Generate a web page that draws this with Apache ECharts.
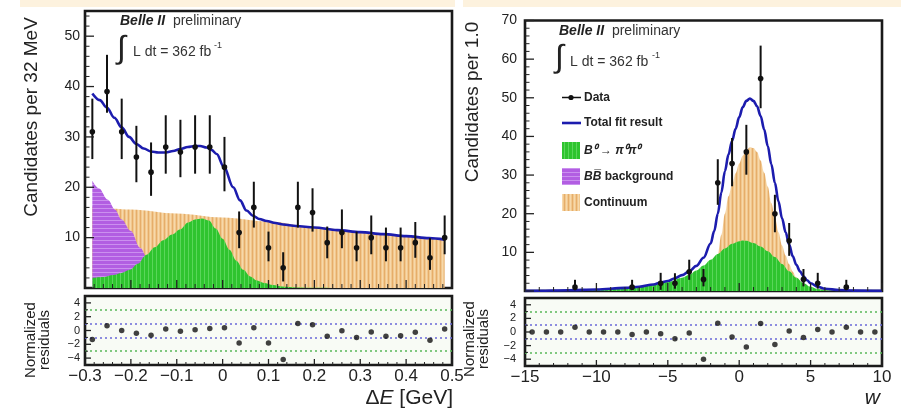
<!DOCTYPE html>
<html><head><meta charset="utf-8">
<script src="https://cdn.jsdelivr.net/npm/echarts@6/dist/echarts.min.js"></script>
<style>html,body{margin:0;padding:0;background:#fff}#c{width:901px;height:409px}</style>
</head><body><div id="c"></div>
<script>
// ---------------- DATA: left panel (Delta E) ----------------
const leftBins = [-0.284,-0.252,-0.220,-0.188,-0.156,-0.124,-0.092,-0.060,-0.028,0.004,0.036,0.068,0.100,0.132,0.164,0.196,0.228,0.260,0.292,0.324,0.356,0.388,0.420,0.452,0.484];
const leftCounts = [31,39,31,26,23,28,27,28,28,24,11,16,8,4,16,15,9,11,8,10,8,8,9,6,10];
const leftErrLow = [25.6,34.8,25.6,21,18.3,22.7,22,22.7,22.7,19.2,7.9,12,5.3,1.3,12,11.2,5.9,7.9,5.3,6.7,5.3,5.3,6,3.6,6.7];
const leftErrHigh = [37.6,46.3,37.6,32.2,28.9,34.3,33.4,34.3,34.3,30,15.2,21.1,11.2,7.1,21.1,19.8,12.2,15.6,11.2,14.4,12,12,13.1,9.9,14.4];
const leftPulls = [-1.3,0.7,0,-0.4,-0.7,0.2,-0.1,0.1,0.3,0.4,-1.8,0.4,-1.8,-4.2,1.0,0.85,-0.85,-0.05,-1.0,-0.2,-0.85,-0.75,-0.25,-1.4,0.2];

const leftFitX = [-0.284,-0.268,-0.252,-0.236,-0.22,-0.204,-0.188,-0.172,-0.156,-0.14,-0.124,-0.108,-0.092,-0.076,-0.06,-0.049,-0.035,-0.024,-0.013,0.003,0.023,0.038,0.052,0.067,0.08,0.096,0.115,0.132,0.16,0.2,0.25,0.3,0.35,0.4,0.45,0.484];
const leftFitY = [38.6,37.3,35.8,33.8,31.9,30.0,28.6,27.7,27.1,26.9,26.9,27.2,27.6,28.0,28.2,28.2,27.9,27.4,26.6,24.0,20.0,17.4,15.4,14.3,13.7,13.3,12.9,12.6,12.3,12.0,11.5,11.1,10.7,10.3,9.9,9.6];
const leftContX = [-0.284,-0.2,-0.1,0,0.1,0.2,0.3,0.4,0.484];
const leftContY = [16.2,15.6,14.8,14.0,13.2,12.1,11.1,10.3,9.6];
const leftBBX = [-0.284,-0.27,-0.25,-0.235,-0.22,-0.2,-0.18,-0.16,-0.14,-0.12,-0.1,-0.08,-0.05,0];
const leftBBY = [21.3,19.8,17.5,15.6,13.6,11.3,8.0,5.2,2.9,1.4,0.6,0.2,0.05,0];
const leftSigX = [-0.284,-0.26,-0.238,-0.22,-0.202,-0.185,-0.166,-0.148,-0.129,-0.11,-0.093,-0.075,-0.06,-0.045,-0.03,-0.015,0,0.015,0.03,0.045,0.06,0.075,0.09,0.11,0.13,0.16,0.2,0.25,0.484];
const leftSigY = [2.0,2.2,2.6,3.0,3.6,4.8,6.6,8.1,9.5,10.6,11.6,13.0,13.6,13.8,13.4,11.8,9.8,7.6,5.4,3.6,2.3,1.5,1.0,0.6,0.3,0.1,0.03,0,0];

// ---------------- DATA: right panel (w) ----------------
const rightBins = [-14.5,-13.5,-12.5,-11.5,-10.5,-9.5,-8.5,-7.5,-6.5,-5.5,-4.5,-3.5,-2.5,-1.5,-0.5,0.5,1.5,2.5,3.5,4.5,5.5,6.5,7.5,8.5,9.5];
const rightPulls = [0,0,0,0.7,0,0,0,-0.35,0,-0.25,-1.0,-0.15,-4.0,1.3,-0.75,-2.2,1.25,-1.85,0.15,-0.8,0.35,0,0.7,0,0];
const rightDataX = [-11.5,-7.5,-5.5,-4.5,-3.5,-2.5,-1.5,-0.5,0.5,1.5,2.5,3.5,4.5,5.5,7.5];
const rightCounts = [1,1,2,2,5,3,28,33,36,55,20,13,3,2,1];
const rightErrLow = [0.2,0.2,0.3,0.6,2.9,1.2,22.3,27.1,30.1,47.3,15.2,9.1,1.2,0.6,0.2];
const rightErrHigh = [2.9,2.9,4.7,4.6,8.1,5.7,34.1,39.6,43,63.5,24.9,17.6,5.7,4.7,2.9];

const rightFitX = [-15,-14,-12,-10,-8,-7,-6,-5.5,-5,-4.5,-4,-3.5,-3,-2.5,-2,-1.75,-1.5,-1.25,-1,-0.75,-0.5,-0.25,0,0.25,0.5,0.75,1,1.25,1.5,1.75,2,2.25,2.5,2.75,3,3.25,3.5,3.75,4,4.25,4.5,4.75,5,5.5,6,7,8,10];
const rightFitY = [0.02,0.08,0.2,0.4,0.8,1.1,1.7,2.2,2.6,3.3,4.1,5.1,6.5,8.6,12.3,15.5,20,25.5,31,35.3,38.8,42,45,47.6,49.2,49.8,49.2,47.8,45.3,41.8,37.5,32.8,28,23.2,18.8,15.2,12,9,6.8,5.1,3.8,2.8,2.0,1.1,0.6,0.25,0.1,0.03];
const rightSigX = [-15,-14,-12,-10,-8,-7,-6,-5,-4,-3.5,-3,-2.5,-2,-1.5,-1,-0.5,0,0.25,0.5,1,1.5,2,2.5,3,3.5,4,4.5,5,5.5,6,7,8,10];
const rightSigY = [0.02,0.05,0.15,0.35,0.75,1.05,1.55,2.3,3.4,4.2,5.3,6.6,8.1,9.6,11.0,12.2,12.9,13.1,13.0,12.4,11.5,10.3,8.8,7.0,5.1,3.4,2.0,1.1,0.5,0.2,0.03,0,0];
const rightContX = [-15,-4,-3.5,-3,-2.5,-2,-1.75,-1.5,-1.25,-1,-0.75,-0.5,-0.25,0,0.25,0.5,0.75,1,1.25,1.5,1.75,2,2.25,2.5,2.75,3,3.25,3.5,3.75,4,4.5,5,5.5,6,7,8,10];
const rightContY = [0,0,0.1,0.4,1.0,3.0,5.5,9.5,14.5,20,24.5,27.5,30.5,33,35,36.4,37.2,37.0,36.0,33.8,30.6,27,22.8,19,15.2,11.8,9.2,6.9,5.0,3.5,1.8,0.8,0.5,0.3,0.1,0,0];

// tick values (labels)
const leftTicksX = [-0.3,-0.2,-0.1,0,0.1,0.2,0.3,0.4,0.5];
const rightTicksX = [-15,-10,-5,0,5,10];
const leftTicksY = [0,10,20,30,40,50];
const rightTicksY = [0,10,20,30,40,50,60,70];
const pullTicksY = [-4,-2,0,2,4];

// ---------------- helpers ----------------
const FONT = "'Liberation Sans', Arial, Helvetica, sans-serif";
function pattern(w, h, draw) {
  const c = document.createElement('canvas'); c.width = w; c.height = h;
  draw(c.getContext('2d'), w, h); return { image: c, repeat: 'repeat' };
}
const orangePat = pattern(4, 4, (g, w, h) => { g.fillStyle = '#f1c88e'; g.fillRect(0,0,w,h); g.fillStyle = '#e6ad6a'; g.fillRect(0,0,1,h); g.fillStyle = '#f7d8ab'; g.fillRect(2,0,1,h); });
const greenPat = pattern(4, 4, (g, w, h) => { g.fillStyle = '#2fc42f'; g.fillRect(0,0,w,h); g.fillStyle = '#5ad65a'; g.fillRect(0,0,1,h); });
const purplePat = pattern(4, 4, (g, w, h) => { g.fillStyle = '#b25ee2'; g.fillRect(0,0,w,h); g.fillStyle = '#cb90ef'; g.fillRect(0,0,w,1); });
const pairs = (xs, ys) => xs.map((x, i) => [x, ys[i]]);
const minus = s => String(s).replace('-', '\u2212');

function errRender(params, api) {
  const x = api.value(0), y = api.value(1), lo = api.value(2), hi = api.value(3);
  const p = api.coord([x, y]), pl = api.coord([x, lo]), ph = api.coord([x, hi]);
  return { type: 'group', children: [
    { type: 'line', shape: { x1: pl[0], y1: pl[1], x2: ph[0], y2: ph[1] }, style: { stroke: '#111', lineWidth: 2 } },
    { type: 'circle', shape: { cx: p[0], cy: p[1], r: 2.8 }, style: { fill: '#111' } }
  ]};
}
function area(name, xs, ys, fill, xi, yi, z) {
  return { name, type: 'line', xAxisIndex: xi, yAxisIndex: yi, data: pairs(xs, ys), smooth: 0.35, smoothMonotone: 'x',
    symbol: 'none', lineStyle: { width: 0 }, areaStyle: { color: fill, opacity: 1 }, z, silent: true };
}
function fitLine(xs, ys, xi, yi) {
  return { name: 'Total fit result', type: 'line', xAxisIndex: xi, yAxisIndex: yi, data: pairs(xs, ys), smooth: 0.35, smoothMonotone: 'x',
    symbol: 'none', lineStyle: { width: 2.6, color: '#1c1cae' }, z: 6, silent: true };
}
function dataSeries(xs, ys, lo, hi, xi, yi) {
  return { name: 'Data', type: 'custom', xAxisIndex: xi, yAxisIndex: yi, renderItem: errRender,
    encode: { x: 0, y: [1, 2, 3] }, data: xs.map((x, i) => [x, ys[i], lo[i], hi[i]]), z: 8, silent: true };
}
function pullSeries(xs, ps, xi, yi) {
  return { name: 'Pulls', type: 'scatter', xAxisIndex: xi, yAxisIndex: yi, data: pairs(xs, ps), symbolSize: 5.5,
    itemStyle: { color: '#111' }, z: 8, silent: true,
    markLine: { symbol: 'none', silent: true, label: { show: false }, animation: false,
      data: [
        { yAxis: 3, lineStyle: { color: '#58b858', type: [2, 3], width: 1.5 } },
        { yAxis: -3, lineStyle: { color: '#58b858', type: [2, 3], width: 1.5 } },
        { yAxis: 1, lineStyle: { color: '#6a6ad8', type: [2, 3], width: 1.5 } },
        { yAxis: -1, lineStyle: { color: '#6a6ad8', type: [2, 3], width: 1.5 } }
      ] } };
}
// axis tick marks drawn inside the frame through the axes' own scales
function subdivide(majors, n, lo, hi) {
  const step = (majors[1] - majors[0]) / n, out = [];
  for (let v = majors[0] - (n - 1) * step; v <= hi + 1e-9; v += step) {
    if (v >= lo - 1e-9 && !majors.some(m => Math.abs(m - v) < step / 10)) out.push(+v.toFixed(6));
  }
  return out;
}
function tickSeries(xi, yi, xMin, yMin, xMaj, xMinor, yMaj, yMinor, lenX, lenY) {
  const data = [];
  xMaj.forEach(v => data.push([v, 1, 0])); xMinor.forEach(v => data.push([v, 0, 0]));
  yMaj.forEach(v => data.push([v, 1, 1])); yMinor.forEach(v => data.push([v, 0, 1]));
  return { name: 'ticks', type: 'custom', xAxisIndex: xi, yAxisIndex: yi, z: 9, silent: true, clip: false,
    encode: { x: -1, y: -1 }, data,
    renderItem: (params, api) => {
      const v = api.value(0), major = api.value(1), dir = api.value(2);
      if (dir === 0) {
        const p = api.coord([v, yMin]); const L = major ? lenX : lenX / 2;
        return { type: 'line', shape: { x1: p[0], y1: p[1], x2: p[0], y2: p[1] - L }, style: { stroke: '#222', lineWidth: major ? 1.3 : 1 } };
      }
      const p = api.coord([xMin, v]); const L = major ? lenY : lenY / 2;
      return { type: 'line', shape: { x1: p[0], y1: p[1], x2: p[0] + L, y2: p[1] }, style: { stroke: '#222', lineWidth: major ? 1.3 : 1 } };
    } };
}
function xAx(gi, min, max, interval, showLabels, fmt) {
  return { type: 'value', gridIndex: gi, min, max, interval,
    axisLine: { show: false, onZero: false }, splitLine: { show: false }, axisTick: { show: false }, minorTick: { show: false },
    axisLabel: { show: showLabels, formatter: fmt, fontSize: 17, fontFamily: FONT, color: '#222', margin: 3, showMinLabel: true, showMaxLabel: true } };
}
function yAx(gi, min, max, interval, fmt, fontSize, margin) {
  return { type: 'value', gridIndex: gi, min, max, interval,
    axisLine: { show: false, onZero: false }, splitLine: { show: false }, axisTick: { show: false }, minorTick: { show: false },
    axisLabel: { formatter: fmt, fontSize, fontFamily: FONT, color: '#222', margin } };
}
const fmtDE = v => { const r = Math.round(v * 10) / 10; return leftTicksX.some(t => Math.abs(t - r) < 1e-9) ? minus(+r.toFixed(1)) : ''; };
const fmtW = v => rightTicksX.includes(Math.round(v)) ? minus(Math.round(v)) : '';
const fmtPull = v => { const r = Math.round(v); return pullTicksY.includes(r) ? minus(r) : ''; };
const fmtMain = maxLab => v => { const r = Math.round(v); return (r >= 10 && r <= maxLab) ? String(r) : ''; };

const grids = [
  { left: 85, top: 11, width: 367, height: 277 },
  { left: 85, top: 296, width: 367, height: 69 },
  { left: 525, top: 20.5, width: 357, height: 270.5 },
  { left: 525, top: 298, width: 357, height: 68 }
].map((g, i) => Object.assign({ show: true, backgroundColor: (i % 2) ? '#f8fbf5' : '#ffffff',
  borderWidth: 2.6, borderColor: '#1a1a1a', containLabel: false, outerBoundsMode: 'none' }, g));

function txt(x, y, text, font, extra) {
  return Object.assign({ type: 'text', x, y, z: 60, silent: true,
    style: Object.assign({ text, font, fill: '#222', align: 'left', verticalAlign: 'middle' }, extra || {}) });
}
const bold = `bold 12px ${FONT}`;
function legendRow(y, label, kind, rich) {
  const els = [];
  if (kind === 'data') {
    els.push({ type: 'line', shape: { x1: 562, y1: y, x2: 581, y2: y }, style: { stroke: '#111', lineWidth: 1.5 }, z: 60 });
    els.push({ type: 'circle', shape: { cx: 571, cy: y, r: 2.6 }, style: { fill: '#111' }, z: 60 });
  } else if (kind === 'fit') {
    els.push({ type: 'line', shape: { x1: 562, y1: y, x2: 581, y2: y }, style: { stroke: '#1c1cae', lineWidth: 2.6 }, z: 60 });
  } else {
    els.push({ type: 'rect', shape: { x: 562, y: y - 8.5, width: 18, height: 17 }, style: { fill: kind }, z: 60 });
  }
  els.push(txt(584, y, label, bold, rich ? { rich } : {}));
  return els;
}
const belleRich = { a: { font: `italic bold 14px ${FONT}`, fill: '#222' }, b: { font: `14px ${FONT}`, fill: '#333' } };
const legRich = { i: { font: `italic bold 12px ${FONT}`, fill: '#222' }, n: { font: `bold 12px ${FONT}`, fill: '#222' } };

const rotated = { rotation: Math.PI / 2 };
const graphic = [
  { type: 'rect', shape: { x: 20, y: 0, width: 435, height: 7 }, style: { fill: '#fdf2de' }, z: 1 },
  { type: 'rect', shape: { x: 463, y: 0, width: 438, height: 7 }, style: { fill: '#fdf2de' }, z: 1 },
  txt(120, 21, '{a|Belle II}  {b|preliminary}', `14px ${FONT}`, { rich: belleRich }),
  txt(117, 49, '\u222B', `32px ${FONT}`),
  txt(133, 52, 'L dt = 362 fb', `14px ${FONT}`, { fill: '#333' }),
  txt(214, 46, '-1', `9px ${FONT}`, { fill: '#333' }),
  txt(559, 31, '{a|Belle II}  {b|preliminary}', `14px ${FONT}`, { rich: belleRich }),
  txt(555, 58, '\u222B', `32px ${FONT}`),
  txt(570, 62, 'L dt = 362 fb', `14px ${FONT}`, { fill: '#333' }),
  txt(652, 56, '-1', `9px ${FONT}`, { fill: '#333' }),
  ...legendRow(97.5, 'Data', 'data'),
  ...legendRow(123, 'Total fit result', 'fit'),
  ...legendRow(150.5, '{i|B\u2070} {n|\u2192} {i|\u03C0\u2070\u03C0\u2070}', greenPat, legRich),
  ...legendRow(176.5, '{i|BB\u0305} {n|background}', purplePat, legRich),
  ...legendRow(202.5, 'Continuum', orangePat),
  Object.assign(txt(32, 117, 'Candidates per 32 MeV', `19px ${FONT}`, { align: 'center' }), rotated),
  Object.assign(txt(473, 102, 'Candidates per 1.0', `19px ${FONT}`, { align: 'center' }), rotated),
  Object.assign(txt(38, 340, 'Normalized\nresiduals', `15px ${FONT}`, { align: 'center', lineHeight: 14 }), rotated),
  Object.assign(txt(477, 339, 'Normalized\nresiduals', `15px ${FONT}`, { align: 'center', lineHeight: 14 }), rotated),
  txt(453, 398, '\u0394{e|E} [GeV]', `21px ${FONT}`, { align: 'right', rich: { e: { font: `italic 21px ${FONT}`, fill: '#222' } } }),
  txt(880, 398, 'w', `italic 21px ${FONT}`, { align: 'right' })
];

const leftMinorX = subdivide(leftTicksX, 5, -0.3, 0.5);
const rightMinorX = subdivide(rightTicksX, 5, -15, 10);
const leftMinorY = subdivide(leftTicksY, 5, 0, 55);
const rightMinorY = subdivide(rightTicksY, 5, 0, 70);
const pullMinorY = subdivide(pullTicksY, 2, -5, 5);

const option = {
  animation: false,
  backgroundColor: '#ffffff',
  grid: grids,
  xAxis: [
    xAx(0, -0.3, 0.5, 0.1, false, fmtDE),
    xAx(1, -0.3, 0.5, 0.1, true, fmtDE),
    xAx(2, -15, 10, 5, false, fmtW),
    xAx(3, -15, 10, 5, true, fmtW)
  ],
  yAxis: [
    yAx(0, 0, 55, 10, fmtMain(50), 14, 5),
    yAx(1, -5, 5, 1, fmtPull, 11, 5),
    yAx(2, 0, 70, 10, fmtMain(70), 14, 8),
    yAx(3, -5, 5, 1, fmtPull, 11, 9)
  ],
  graphic,
  series: [
    area('Continuum', leftContX, leftContY, orangePat, 0, 0, 2),
    area('BB background', leftBBX, leftBBY, purplePat, 0, 0, 3),
    area('B0 → π0π0', leftSigX, leftSigY, greenPat, 0, 0, 4),
    fitLine(leftFitX, leftFitY, 0, 0),
    dataSeries(leftBins, leftCounts, leftErrLow, leftErrHigh, 0, 0),
    pullSeries(leftBins, leftPulls, 1, 1),
    area('Continuum', rightContX, rightContY, orangePat, 2, 2, 2),
    area('B0 → π0π0', rightSigX, rightSigY, greenPat, 2, 2, 4),
    fitLine(rightFitX, rightFitY, 2, 2),
    dataSeries(rightDataX, rightCounts, rightErrLow, rightErrHigh, 2, 2),
    pullSeries(rightBins, rightPulls, 3, 3),
    tickSeries(0, 0, -0.3, 0, leftTicksX, leftMinorX, leftTicksY, leftMinorY, 8, 9),
    tickSeries(1, 1, -0.3, -5, leftTicksX, leftMinorX, pullTicksY, pullMinorY, 6, 6),
    tickSeries(2, 2, -15, 0, rightTicksX, rightMinorX, rightTicksY, rightMinorY, 8, 9),
    tickSeries(3, 3, -15, -5, rightTicksX, rightMinorX, pullTicksY, pullMinorY, 6, 6)
  ]
};
const chart = echarts.init(document.getElementById('c'), null, { renderer: 'canvas' });
chart.setOption(option);
</script></body></html>
